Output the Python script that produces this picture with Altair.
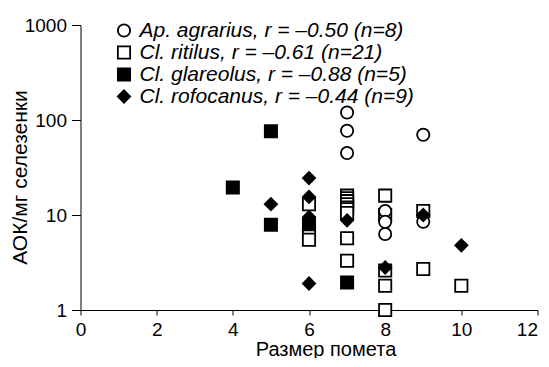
import altair as alt
import pandas as pd

labels = [
    "Ap. agrarius, r = \u20130.50 (n=8)",
    "Cl. ritilus, r = \u20130.61 (n=21)",
    "Cl. glareolus, r = \u20130.88 (n=5)",
    "Cl. rofocanus, r = \u20130.44 (n=9)",
]

ritilus_x = [6, 6, 6, 6, 7, 7, 7, 7, 7, 7, 7, 7, 7, 8, 8, 8, 8, 8, 9, 9, 10]
ritilus_y = [13, 6.5, 6, 5.5, 16, 15, 14, 13, 12, 11.5, 10.5, 5.7, 3.3, 16, 10, 2.6, 1.8, 1.0, 11, 2.7, 1.8]

agrarius_x = [7, 7, 7, 8, 8, 8, 9, 9]
agrarius_y = [120, 77, 45, 11, 8.5, 6.3, 70, 8.5]

glareolus_x = [4, 5, 5, 6, 7]
glareolus_y = [19.5, 76, 7.9, 8.0, 1.95]

rofocanus_x = [5, 6, 6, 6, 6, 7, 8, 9, 10]
rofocanus_y = [13, 24.5, 15.5, 9.5, 1.9, 8.8, 2.8, 10, 4.8]

x_ticks = [0, 2, 4, 6, 8, 10, 12]
y_ticks = [1, 10, 100, 1000]

rows = []
for lab, xs, ys in [
    (labels[1], ritilus_x, ritilus_y),
    (labels[0], agrarius_x, agrarius_y),
    (labels[2], glareolus_x, glareolus_y),
    (labels[3], rofocanus_x, rofocanus_y),
]:
    for x, y in zip(xs, ys):
        rows.append({"species": lab, "x": x, "y": y})
df = pd.DataFrame(rows)

FONT = "Liberation Sans"


def leg():
    return alt.Legend(title=None, orient="none", legendX=33, legendY=-5,
                      labelFontSize=21, labelFontStyle="italic", labelFont=FONT,
                      labelLimit=0, rowPadding=0, padding=0, labelOffset=5,
                      symbolStrokeWidth=1.8)


chart = alt.Chart(df).mark_point(filled=False, strokeWidth=1.8, opacity=1).encode(
    x=alt.X("x:Q",
            scale=alt.Scale(domain=[0, 12], nice=False, zero=False),
            axis=alt.Axis(values=x_ticks, title="Размер помета",
                          grid=False, tickSize=5, labelPadding=5, labelFlush=False,
                          labelAlign={"condition": {"test": "datum.value == 12", "value": "right"},
                                      "value": "center"},
                          labelFontSize=19, titleFontSize=20, titleFontWeight="normal",
                          titleX=245, titleY=45, titleBaseline="alphabetic",
                          titleAnchor="middle", titleAlign="center")),
    y=alt.Y("y:Q",
            scale=alt.Scale(type="log", domain=[1, 1000], nice=False),
            axis=alt.Axis(values=y_ticks, format="d", title="АОК/мг селезенки",
                          grid=False, tickSize=9, labelPadding=5,
                          labelFontSize=19, titleFontSize=21, titleFontWeight="normal",
                          titleX=-54, titleY=152, titleBaseline="alphabetic",
                          titleAlign="center", titleAngle=-90)),
    shape=alt.Shape("species:N",
                    scale=alt.Scale(domain=labels, range=["circle", "square", "square", "diamond"]),
                    legend=leg()),
    fill=alt.Fill("species:N",
                  scale=alt.Scale(domain=labels, range=["white", "white", "black", "black"]),
                  legend=leg()),
    stroke=alt.Stroke("species:N",
                      scale=alt.Scale(domain=labels, range=["black", "black", "black", "black"]),
                      legend=leg()),
    size=alt.Size("species:N",
                  scale=alt.Scale(domain=labels, range=[150, 150, 150, 230]),
                  legend=leg()),
).properties(
    width=457, height=285,
    autosize=alt.AutoSizeParams(type="none"),
    padding={"left": 72.5, "top": 17, "right": 3, "bottom": 48},
).configure_view(stroke=None).configure_axis(
    domainColor="black", tickColor="black", labelColor="black", titleColor="black",
    labelFont=FONT, titleFont=FONT, domainWidth=1, tickWidth=1
).configure_legend(labelColor="black", symbolStrokeColor="black")

chart.save("out.html", embed_options={"renderer": "svg", "actions": False})
